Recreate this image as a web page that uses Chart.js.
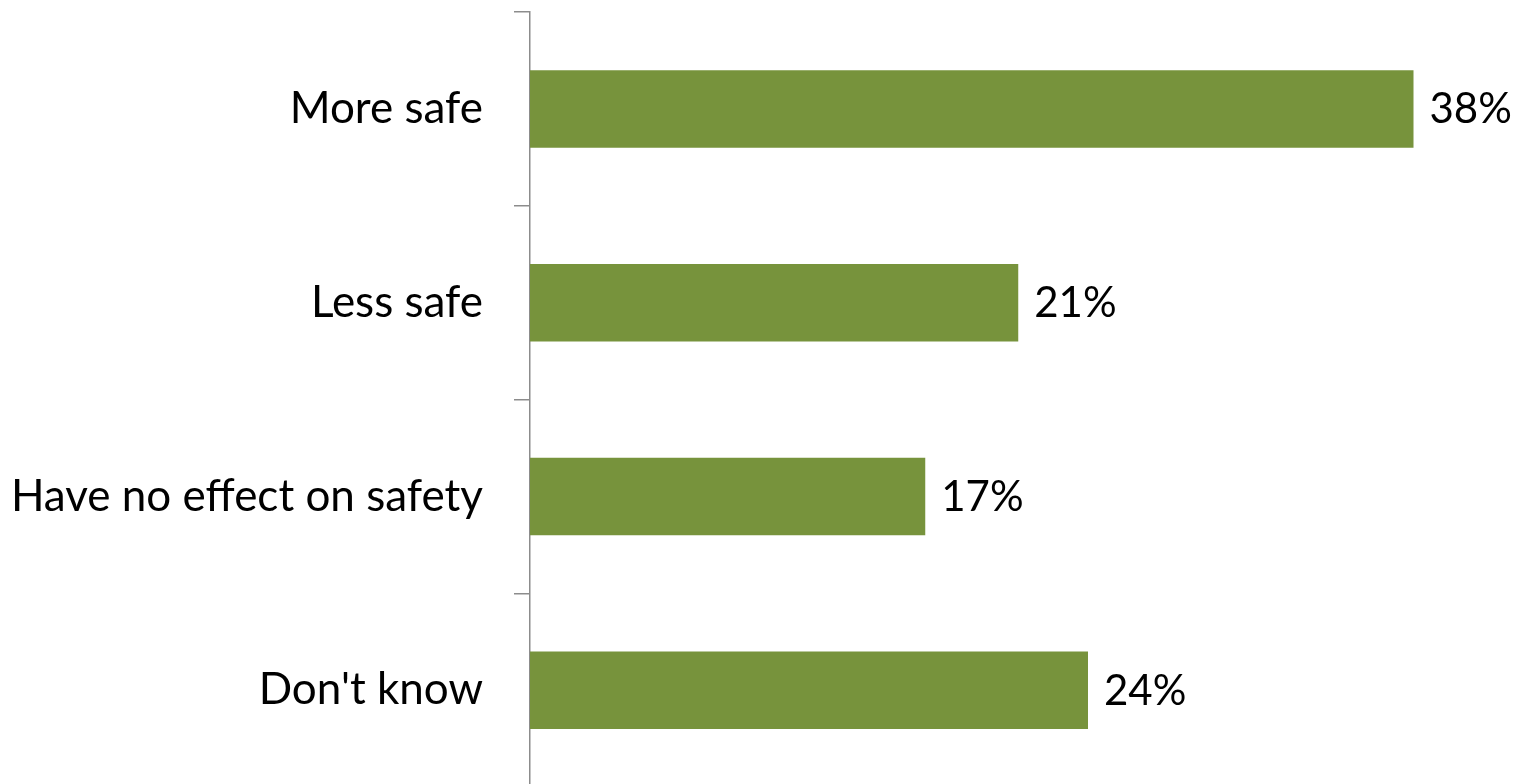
<!DOCTYPE html>
<html>
<head>
<meta charset="utf-8">
<title>Safety chart</title>
<script src="https://cdn.jsdelivr.net/npm/chart.js@4"></script>
<style>
  html, body { margin: 0; padding: 0; background: #fff; overflow: hidden; }
  /* slightly taller than the window: the last band edge falls just below the view */
  #wrap { width: 1517px; height: 787px; position: relative; }
</style>
</head>
<body>
<div id="wrap"><canvas id="safety-chart"></canvas></div>
<script>
'use strict';

// *************** DATA
let categories = ['More safe', 'Less safe', 'Have no effect on safety', 'Don\'t know'];
let percentValues = [38, 21, 17, 24];
let valueLabels = ['38%', '21%', '17%', '24%'];

// *************** STYLE
let barColor = '#77933c';
let axisColor = '#8c8c8c';
let fontFamily = 'Lato, "Open Sans", sans-serif';

// *************** PLUGIN: labels at bar ends
let barEndLabels = {
  id: 'barEndLabels',
  afterDatasetsDraw(chart) {
    let ctx = chart.ctx;
    let meta = chart.getDatasetMeta(0);
    ctx.save();
    ctx.font = '42px ' + fontFamily;
    ctx.fillStyle = '#000';
    ctx.textAlign = 'left';
    ctx.textBaseline = 'middle';
    meta.data.forEach((bar, i) => {
      ctx.fillText(valueLabels[i], bar.x + 16, bar.y + 1);
    });
    ctx.restore();
  }
};

// *************** CHART
let ctx = document.getElementById('safety-chart');

new Chart(ctx, {
  type: 'bar',
  data: {
    labels: categories,
    datasets: [{
      data: percentValues,
      backgroundColor: barColor,
      borderWidth: 0,
      categoryPercentage: 1,
      barPercentage: 0.4
    }]
  },
  options: {
    indexAxis: 'y',
    responsive: true,
    maintainAspectRatio: false,
    animation: false,
    layout: { padding: { top: 12, right: 57, bottom: 0, left: 0 } },
    plugins: {
      legend: { display: false },
      tooltip: { enabled: false }
    },
    scales: {
      x: {
        display: false,
        min: 0,
        max: 40
      },
      y: {
        afterFit(scale) {
          // fixed axis position, no extra room above/below the bands
          scale.width = 530;
          scale.paddingTop = 0;
          scale.paddingBottom = 0;
        },
        border: { display: true, color: axisColor, width: 1.5 },
        grid: {
          offset: true,
          drawOnChartArea: false,
          drawTicks: true,
          tickLength: 16,
          color: axisColor,
          lineWidth: 1.5
        },
        ticks: {
          padding: 31,
          color: '#000',
          font: { family: fontFamily, size: 44 }
        }
      }
    }
  },
  plugins: [barEndLabels]
});
</script>
</body>
</html>
